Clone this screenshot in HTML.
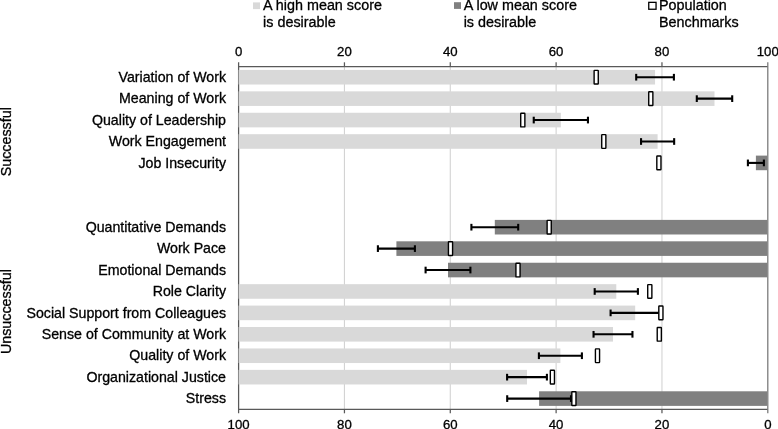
<!DOCTYPE html>
<html><head><meta charset="utf-8"><style>
html,body{margin:0;padding:0;background:#fff;width:778px;height:429px;overflow:hidden}
svg{display:block;will-change:transform}
text{font-family:"Liberation Sans",sans-serif}
</style></head><body>
<svg width="778" height="429" viewBox="0 0 778 429">
<rect width="778" height="429" fill="#fff"/>
<line x1="344.44" y1="66.50" x2="344.44" y2="409.30" stroke="#d3d3d3" stroke-width="1.1"/>
<line x1="450.28" y1="66.50" x2="450.28" y2="409.30" stroke="#d3d3d3" stroke-width="1.1"/>
<line x1="556.12" y1="66.50" x2="556.12" y2="409.30" stroke="#d3d3d3" stroke-width="1.1"/>
<line x1="661.96" y1="66.50" x2="661.96" y2="409.30" stroke="#d3d3d3" stroke-width="1.1"/>
<g stroke="#595959" stroke-width="1.25" fill="none">
<line x1="238.60" y1="66.50" x2="767.80" y2="66.50"/>
<line x1="238.60" y1="409.30" x2="767.80" y2="409.30"/>
<line x1="238.60" y1="62.30" x2="238.60" y2="413.30"/>
<line x1="767.80" y1="62.30" x2="767.80" y2="413.30" stroke="#777"/>
<line x1="344.44" y1="62.30" x2="344.44" y2="66.50"/>
<line x1="344.44" y1="409.30" x2="344.44" y2="413.30"/>
<line x1="450.28" y1="62.30" x2="450.28" y2="66.50"/>
<line x1="450.28" y1="409.30" x2="450.28" y2="413.30"/>
<line x1="556.12" y1="62.30" x2="556.12" y2="66.50"/>
<line x1="556.12" y1="409.30" x2="556.12" y2="413.30"/>
<line x1="661.96" y1="62.30" x2="661.96" y2="66.50"/>
<line x1="661.96" y1="409.30" x2="661.96" y2="413.30"/>
</g>
<rect x="238.60" y="69.91" width="416.45" height="14.6" fill="#d9d9d9"/>
<rect x="238.60" y="91.34" width="475.90" height="14.6" fill="#d9d9d9"/>
<rect x="238.60" y="112.76" width="322.25" height="14.6" fill="#d9d9d9"/>
<rect x="238.60" y="134.19" width="419.00" height="14.6" fill="#d9d9d9"/>
<rect x="755.90" y="155.61" width="11.30" height="14.6" fill="#808080"/>
<rect x="494.80" y="219.89" width="272.40" height="14.6" fill="#808080"/>
<rect x="396.40" y="241.31" width="370.80" height="14.6" fill="#808080"/>
<rect x="448.00" y="262.74" width="319.20" height="14.6" fill="#808080"/>
<rect x="238.60" y="284.16" width="377.70" height="14.6" fill="#d9d9d9"/>
<rect x="238.60" y="305.59" width="396.60" height="14.6" fill="#d9d9d9"/>
<rect x="238.60" y="327.01" width="374.40" height="14.6" fill="#d9d9d9"/>
<rect x="238.60" y="348.44" width="321.80" height="14.6" fill="#d9d9d9"/>
<rect x="238.60" y="369.86" width="288.40" height="14.6" fill="#d9d9d9"/>
<rect x="539.10" y="391.29" width="228.10" height="14.6" fill="#808080"/>
<g stroke="#000" fill="none">
<line x1="636.20" y1="77.21" x2="673.90" y2="77.21" stroke-width="2.1"/>
<line x1="636.20" y1="73.86" x2="636.20" y2="80.56" stroke-width="2.1"/>
<line x1="673.90" y1="73.86" x2="673.90" y2="80.56" stroke-width="2.1"/>
<line x1="696.80" y1="98.64" x2="732.20" y2="98.64" stroke-width="2.1"/>
<line x1="696.80" y1="95.29" x2="696.80" y2="101.99" stroke-width="2.1"/>
<line x1="732.20" y1="95.29" x2="732.20" y2="101.99" stroke-width="2.1"/>
<line x1="533.75" y1="120.06" x2="587.95" y2="120.06" stroke-width="2.1"/>
<line x1="533.75" y1="116.71" x2="533.75" y2="123.41" stroke-width="2.1"/>
<line x1="587.95" y1="116.71" x2="587.95" y2="123.41" stroke-width="2.1"/>
<line x1="641.05" y1="141.49" x2="674.15" y2="141.49" stroke-width="2.1"/>
<line x1="641.05" y1="138.14" x2="641.05" y2="144.84" stroke-width="2.1"/>
<line x1="674.15" y1="138.14" x2="674.15" y2="144.84" stroke-width="2.1"/>
<line x1="747.90" y1="162.91" x2="763.90" y2="162.91" stroke-width="2.1"/>
<line x1="747.90" y1="159.56" x2="747.90" y2="166.26" stroke-width="2.1"/>
<line x1="763.90" y1="159.56" x2="763.90" y2="166.26" stroke-width="2.1"/>
<line x1="471.40" y1="227.19" x2="518.20" y2="227.19" stroke-width="2.1"/>
<line x1="471.40" y1="223.84" x2="471.40" y2="230.54" stroke-width="2.1"/>
<line x1="518.20" y1="223.84" x2="518.20" y2="230.54" stroke-width="2.1"/>
<line x1="377.90" y1="248.61" x2="414.90" y2="248.61" stroke-width="2.1"/>
<line x1="377.90" y1="245.26" x2="377.90" y2="251.96" stroke-width="2.1"/>
<line x1="414.90" y1="245.26" x2="414.90" y2="251.96" stroke-width="2.1"/>
<line x1="425.60" y1="270.04" x2="470.40" y2="270.04" stroke-width="2.1"/>
<line x1="425.60" y1="266.69" x2="425.60" y2="273.39" stroke-width="2.1"/>
<line x1="470.40" y1="266.69" x2="470.40" y2="273.39" stroke-width="2.1"/>
<line x1="594.70" y1="291.46" x2="637.90" y2="291.46" stroke-width="2.1"/>
<line x1="594.70" y1="288.11" x2="594.70" y2="294.81" stroke-width="2.1"/>
<line x1="637.90" y1="288.11" x2="637.90" y2="294.81" stroke-width="2.1"/>
<line x1="610.60" y1="312.89" x2="659.80" y2="312.89" stroke-width="2.1"/>
<line x1="610.60" y1="309.54" x2="610.60" y2="316.24" stroke-width="2.1"/>
<line x1="659.80" y1="309.54" x2="659.80" y2="316.24" stroke-width="2.1"/>
<line x1="593.55" y1="334.31" x2="632.45" y2="334.31" stroke-width="2.1"/>
<line x1="593.55" y1="330.96" x2="593.55" y2="337.66" stroke-width="2.1"/>
<line x1="632.45" y1="330.96" x2="632.45" y2="337.66" stroke-width="2.1"/>
<line x1="538.90" y1="355.74" x2="581.90" y2="355.74" stroke-width="2.1"/>
<line x1="538.90" y1="352.39" x2="538.90" y2="359.09" stroke-width="2.1"/>
<line x1="581.90" y1="352.39" x2="581.90" y2="359.09" stroke-width="2.1"/>
<line x1="507.10" y1="377.16" x2="546.90" y2="377.16" stroke-width="2.1"/>
<line x1="507.10" y1="373.81" x2="507.10" y2="380.51" stroke-width="2.1"/>
<line x1="546.90" y1="373.81" x2="546.90" y2="380.51" stroke-width="2.1"/>
<line x1="507.20" y1="398.59" x2="571.00" y2="398.59" stroke-width="2.1"/>
<line x1="507.20" y1="395.24" x2="507.20" y2="401.94" stroke-width="2.1"/>
<line x1="571.00" y1="395.24" x2="571.00" y2="401.94" stroke-width="2.1"/>
</g>
<rect x="594.12" y="70.36" width="4.15" height="13.7" rx="0.5" fill="#fff" stroke="#000" stroke-width="1.4"/>
<rect x="648.72" y="91.79" width="4.15" height="13.7" rx="0.5" fill="#fff" stroke="#000" stroke-width="1.4"/>
<rect x="520.72" y="113.21" width="4.15" height="13.7" rx="0.5" fill="#fff" stroke="#000" stroke-width="1.4"/>
<rect x="601.72" y="134.64" width="4.15" height="13.7" rx="0.5" fill="#fff" stroke="#000" stroke-width="1.4"/>
<rect x="656.82" y="156.06" width="4.15" height="13.7" rx="0.5" fill="#fff" stroke="#000" stroke-width="1.4"/>
<rect x="547.12" y="220.34" width="4.15" height="13.7" rx="0.5" fill="#fff" stroke="#000" stroke-width="1.4"/>
<rect x="448.43" y="241.76" width="4.15" height="13.7" rx="0.5" fill="#fff" stroke="#000" stroke-width="1.4"/>
<rect x="515.92" y="263.19" width="4.15" height="13.7" rx="0.5" fill="#fff" stroke="#000" stroke-width="1.4"/>
<rect x="647.72" y="284.61" width="4.15" height="13.7" rx="0.5" fill="#fff" stroke="#000" stroke-width="1.4"/>
<rect x="658.82" y="306.04" width="4.15" height="13.7" rx="0.5" fill="#fff" stroke="#000" stroke-width="1.4"/>
<rect x="657.22" y="327.46" width="4.15" height="13.7" rx="0.5" fill="#fff" stroke="#000" stroke-width="1.4"/>
<rect x="595.42" y="348.89" width="4.15" height="13.7" rx="0.5" fill="#fff" stroke="#000" stroke-width="1.4"/>
<rect x="550.32" y="370.31" width="4.15" height="13.7" rx="0.5" fill="#fff" stroke="#000" stroke-width="1.4"/>
<rect x="571.82" y="391.74" width="4.15" height="13.7" rx="0.5" fill="#fff" stroke="#000" stroke-width="1.4"/>
<g font-family="Liberation Sans, sans-serif" font-size="14" fill="#000" stroke="#000" stroke-width="0.3">
<text x="226" y="81.91" text-anchor="end" font-size="14.2">Variation of Work</text>
<text x="226" y="103.34" text-anchor="end" font-size="14.2">Meaning of Work</text>
<text x="226" y="124.76" text-anchor="end" font-size="14.2">Quality of Leadership</text>
<text x="226" y="146.19" text-anchor="end" font-size="14.2">Work Engagement</text>
<text x="226" y="167.61" text-anchor="end" font-size="14.2">Job Insecurity</text>
<text x="226" y="231.89" text-anchor="end" font-size="14.2">Quantitative Demands</text>
<text x="226" y="253.31" text-anchor="end" font-size="14.2">Work Pace</text>
<text x="226" y="274.74" text-anchor="end" font-size="14.2">Emotional Demands</text>
<text x="226" y="296.16" text-anchor="end" font-size="14.2">Role Clarity</text>
<text x="226" y="317.59" text-anchor="end" font-size="14.2">Social Support from Colleagues</text>
<text x="226" y="339.01" text-anchor="end" font-size="14.2">Sense of Community at Work</text>
<text x="226" y="360.44" text-anchor="end" font-size="14.2">Quality of Work</text>
<text x="226" y="381.86" text-anchor="end" font-size="14.2">Organizational Justice</text>
<text x="226" y="403.29" text-anchor="end" font-size="14.2">Stress</text>
<text x="238.60" y="55.75" text-anchor="middle" font-size="13.2">0</text>
<text x="767.80" y="428.5" text-anchor="middle" font-size="13.2">0</text>
<text x="344.44" y="55.75" text-anchor="middle" font-size="13.2">20</text>
<text x="661.96" y="428.5" text-anchor="middle" font-size="13.2">20</text>
<text x="450.28" y="55.75" text-anchor="middle" font-size="13.2">40</text>
<text x="556.12" y="428.5" text-anchor="middle" font-size="13.2">40</text>
<text x="556.12" y="55.75" text-anchor="middle" font-size="13.2">60</text>
<text x="450.28" y="428.5" text-anchor="middle" font-size="13.2">60</text>
<text x="661.96" y="55.75" text-anchor="middle" font-size="13.2">80</text>
<text x="344.44" y="428.5" text-anchor="middle" font-size="13.2">80</text>
<text x="767.80" y="55.75" text-anchor="middle" font-size="13.2">100</text>
<text x="238.60" y="428.5" text-anchor="middle" font-size="13.2">100</text>
<rect x="253" y="2.4" width="7" height="6.7" fill="#d9d9d9" stroke="none"/>
<g font-size="14.35">
<text x="263.1" y="10.1">A high mean score</text><text x="263.1" y="26.6">is desirable</text>
<rect x="454" y="2.2" width="7" height="6.7" fill="#808080" stroke="none"/>
<text x="463.7" y="10.1">A low mean score</text><text x="463.7" y="26.6">is desirable</text>
<rect x="648.75" y="2.35" width="7.3" height="6.9" fill="#fff" stroke="#000" stroke-width="1.3"/>
<text x="659" y="10.1">Population</text><text x="659" y="26.6">Benchmarks</text></g>
<text transform="translate(10.8,141.7) rotate(-90)" text-anchor="middle" font-size="14.3">Successful</text>
<text transform="translate(10.8,311.6) rotate(-90)" text-anchor="middle" font-size="14.3">Unsuccessful</text>
</g>
</svg>
</body></html>
